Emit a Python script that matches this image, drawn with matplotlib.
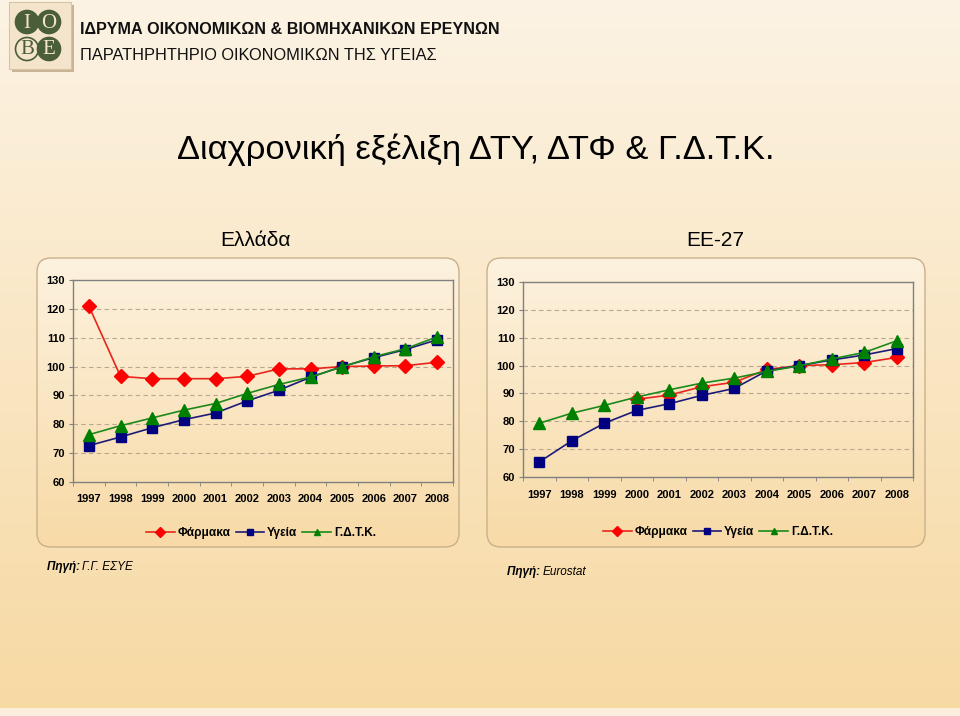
import numpy as np
import matplotlib
matplotlib.use("Agg")
import matplotlib.pyplot as plt
from matplotlib.patches import FancyBboxPatch, Rectangle, Circle
from matplotlib.lines import Line2D
from matplotlib.colors import to_rgb

plt.rcParams["font.family"] = ["Liberation Sans", "DejaVu Sans"]

# ------------------------------
# Data
# ------------------------------
years = ["1997", "1998", "1999", "2000", "2001", "2002",
         "2003", "2004", "2005", "2006", "2007", "2008"]

gr_drugs = [121.0, 96.6, 95.8, 95.8, 95.8, 96.6, 99.2, 99.2, 100.0, 100.2, 100.3, 101.5]
gr_health = [72.6, 75.6, 78.8, 81.6, 83.9, 88.1, 91.8, 96.3, 100.0, 103.1, 105.9, 109.3]
gr_gdp = [76.4, 79.5, 82.2, 84.9, 87.2, 90.7, 93.8, 96.4, 99.9, 103.4, 106.2, 110.3]

eu_drugs = [np.nan, np.nan, np.nan, 87.9, 89.4, 92.4, 94.0, 98.6, 100.0, 100.3, 101.1, 102.9]
eu_health = [65.4, 73.0, 79.3, 83.9, 86.3, 89.3, 91.8, 98.1, 100.0, 102.0, 103.8, 106.1]
eu_gdp = [79.3, 82.9, 85.7, 88.7, 91.3, 93.7, 95.5, 97.9, 99.9, 102.4, 104.7, 108.9]

series_names = ["Φάρμακα", "Υγεία", "Γ.Δ.Τ.Κ."]
y_ticks = [60, 70, 80, 90, 100, 110, 120, 130]

W, H = 960, 716
fig = plt.figure(figsize=(W / 100, H / 100), dpi=100)

# background in pixel coordinates
bg = fig.add_axes([0, 0, 1, 1])
bg.set_xlim(0, W)
bg.set_ylim(H, 0)
bg.axis("off")
bg.set_zorder(0)


def vgrad(top, bottom, n=256):
    t = np.linspace(0, 1, n)[:, None, None]
    a = np.array(to_rgb(top))[None, None, :]
    b = np.array(to_rgb(bottom))[None, None, :]
    return a * (1 - t) + b * t


bg.imshow(vgrad("#fcf3e4", "#f7d9a2"), extent=(0, W, H, 0), aspect="auto", zorder=0)
bg.add_patch(Rectangle((0, 708), W, 8, facecolor="#fbeedd", edgecolor="none", zorder=1))

# logo
bg.add_patch(Rectangle((12, 5), 62, 67, facecolor="#c9b596", edgecolor="none", zorder=1))
bg.add_patch(Rectangle((9, 2), 62, 67, facecolor="#f4e4cc", edgecolor="#d8c4a4", lw=0.8, zorder=2))
logo = [(27, 22, "I", True), (49, 22, "O", True), (27, 49, "B", False), (49, 49, "E", True)]
for cx, cy, ch, dark in logo:
    fc = "#4b5e3a" if dark else "#f4e4cc"
    bg.add_patch(Circle((cx, cy), 11.5, facecolor=fc, edgecolor="#4b5e3a", lw=1.2, zorder=3))
    bg.text(cx, cy + 1, ch, ha="center", va="center", fontsize=15,
            family="Liberation Serif", color="#f4e4cc" if dark else "#4b5e3a", zorder=4)

bg.text(80, 30, "ΙΔΡΥΜΑ ΟΙΚΟΝΟΜΙΚΩΝ & ΒΙΟΜΗΧΑΝΙΚΩΝ ΕΡΕΥΝΩΝ", fontsize=11.6,
        fontweight="bold", va="center", ha="left", color="#111111", zorder=2)
bg.text(80, 56, "ΠΑΡΑΤΗΡΗΤΗΡΙΟ ΟΙΚΟΝΟΜΙΚΩΝ ΤΗΣ ΥΓΕΙΑΣ", fontsize=11.8,
        va="center", ha="left", color="#111111", zorder=2)

bg.text(476, 150, "Διαχρονική εξέλιξη ΔΤΥ, ΔΤΦ & Γ.Δ.Τ.Κ.", fontsize=24.8,
        va="center", ha="center", color="#000000", zorder=2)

bg.text(256, 240, "Ελλάδα", fontsize=15, ha="center", va="center", zorder=2)
bg.text(715, 240, "ΕΕ-27", fontsize=15, ha="center", va="center", zorder=2)

# rounded boxes around each chart
for x0, x1 in [(37, 459), (487, 925)]:
    box = FancyBboxPatch((x0, 258), x1 - x0, 289,
                         boxstyle="round,pad=0,rounding_size=14",
                         facecolor="none", edgecolor="#c9b08a", lw=1.0, zorder=3)
    bg.add_patch(box)
    im = bg.imshow(vgrad("#fdf2df", "#f7daa6"), extent=(x0, x1, 547, 258),
                   aspect="auto", zorder=2)
    im.set_clip_path(box)

# sources: bold italic label followed by italic text
renderer = fig.canvas.get_renderer()
for sx, sy, rest in [(47, 567, "Γ.Γ. ΕΣΥΕ"), (507, 572, "Eurostat")]:
    t = bg.text(sx, sy, "Πηγή: ", fontsize=8.5, fontweight="bold", style="italic",
                va="center", zorder=2)
    w = t.get_window_extent(renderer).width
    bg.text(sx + w - 1, sy, rest, fontsize=8.5, style="italic", va="center", zorder=2)

styles = [
    dict(color="#e8261c", marker="D", mfc="#ff0000", mec="#ff0000", ms=7.5),
    dict(color="#1c1c78", marker="s", mfc="#000080", mec="#000080", ms=7.5),
    dict(color="#1b8a1b", marker="^", mfc="#008000", mec="#008000", ms=8.5),
]


def draw_panel(rect, data, legend_xy):
    ax = fig.add_axes(rect)
    ax.set_zorder(5)
    ax.patch.set_alpha(0)
    x = np.arange(len(years))
    for vals, st, name in zip(data, styles, series_names):
        ax.plot(x, vals, lw=1.2, label=name, **st)
    ax.set_xlim(-0.5, len(years) - 0.5)
    ax.set_ylim(60, 130)
    ax.set_yticks(y_ticks)
    ax.set_xticks(x)
    ax.set_xticklabels(years)
    ax.set_xticks(np.arange(-0.5, len(years), 1.0), minor=True)
    ax.tick_params(axis="x", which="major", length=0, pad=9, labelsize=8)
    ax.tick_params(axis="x", which="minor", length=3, color="#808080", direction="out")
    ax.tick_params(axis="y", length=3, color="#808080", labelsize=8, pad=3)
    for lab in ax.get_xticklabels() + ax.get_yticklabels():
        lab.set_fontweight("bold")
    for y in y_ticks[1:-1]:
        ax.axhline(y, color="#b8a890", lw=0.8, ls=(0, (4, 3)), zorder=0)
    for s in ax.spines.values():
        s.set_color("#808080")
        s.set_linewidth(1.0)
    handles = [Line2D([], [], lw=1.2, color=st["color"], marker=st["marker"],
                      mfc=st["mfc"], mec=st["mec"], ms=5) for st in styles]
    leg = fig.legend(handles, series_names, loc="center",
                     bbox_to_anchor=(legend_xy[0] / W, 1 - legend_xy[1] / H),
                     ncol=3, frameon=False, handlelength=2.4, handletextpad=0.25,
                     columnspacing=0.4, prop=dict(size=8.6, weight="bold"))
    leg.set_zorder(6)
    return ax


draw_panel([73 / W, 1 - 482 / H, 380 / W, 202 / H], [gr_drugs, gr_health, gr_gdp], (261, 533))
draw_panel([523 / W, 1 - 477 / H, 390 / W, 195 / H], [eu_drugs, eu_health, eu_gdp], (718, 532))

fig.savefig("out.png", dpi=100)
